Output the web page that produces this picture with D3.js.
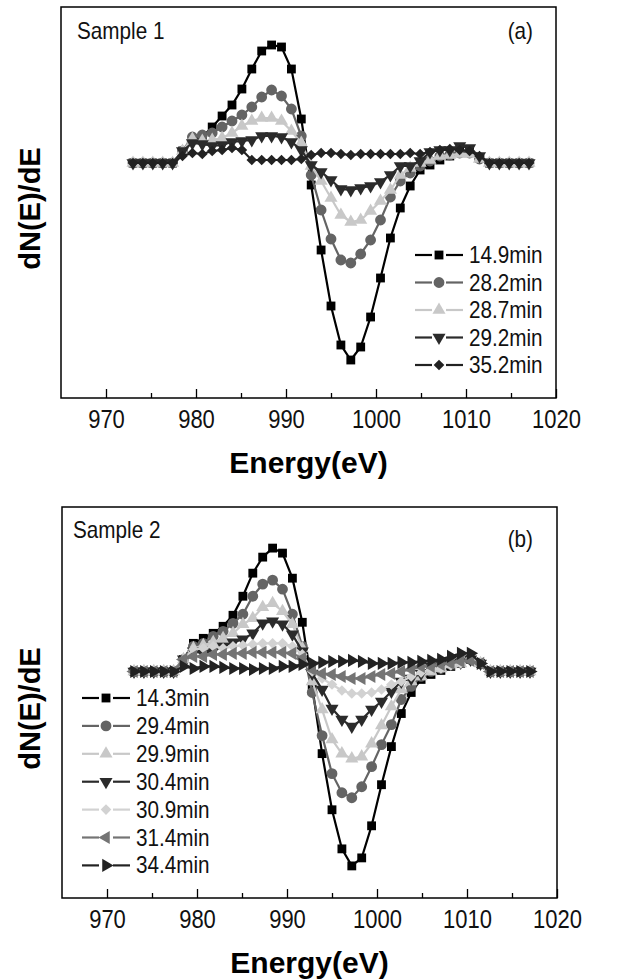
<!DOCTYPE html>
<html>
<head>
<meta charset="utf-8">
<script src="https://cdn.jsdelivr.net/npm/d3@7"></script>
<style>
  body { margin: 0; background: #fff; }
  svg { display: block; font-family: "Liberation Sans", Arial, sans-serif; }
</style>
</head>
<body>
<div id="chart"></div>
<script>
// energy axis (eV)
const energy = [973.0, 974.1, 975.2, 976.3, 977.4, 978.5, 979.6, 980.7, 981.8, 982.9,
  984.0, 985.1, 986.2, 987.3, 988.4, 989.5, 990.6, 991.7, 992.8, 993.9,
  995.0, 996.1, 997.2, 998.3, 999.4, 1000.5, 1001.6, 1002.7, 1003.8, 1004.9,
  1006.0, 1007.1, 1008.2, 1009.3, 1010.4, 1011.5, 1012.6, 1013.7, 1014.8, 1015.9, 1017.0];

const xTicks = [970, 980, 990, 1000, 1010, 1020];
const xMinor = [975, 985, 995, 1005, 1015];

// Sample 1 (a), arbitrary units
const labelsA = ['14.9min', '28.2min', '28.7min', '29.2min', '35.2min'];
const a149 = [0, 0, 0, 0, 0, 12, 24, 26, 36, 47, 58, 74, 94, 112, 118, 116, 94, 44, -22, -87,
  -143, -182, -197, -184, -154, -115, -75, -45, -23, -7, -2, 3, 7, 12, 12, 5, 0, 0, 0, 0, 0];
const a282 = [0, 0, 0, 0, 0, 12, 26, 28, 30, 36, 42, 48, 56, 66, 73, 67, 54, 27, -12, -47,
  -76, -97, -100, -91, -77, -57, -34, -18, -10, -3, 2, 7, 8, 10, 10, 4, 0, 0, 0, 0, 0];
const a287 = [0, 0, 0, 0, 0, 12, 24, 22, 23, 25, 30, 37, 42, 45, 45, 42, 32, 20, -3, -18,
  -35, -52, -59, -57, -48, -38, -27, -12, -5, 0, 3, 7, 8, 9, 9, 4, 0, 0, 0, 0, 0];
const a292 = [0, 0, 0, 0, 0, 12, 20, 19, 17, 18, 21, 22, 23, 27, 27, 26, 21, 13, -2, -9,
  -17, -26, -27, -25, -23, -19, -12, -3, -3, 2, 11, 13, 13, 17, 15, 7, 0, 0, 0, 0, 0];
const a352 = [0, 0, 0, 0, 0, 7, 10, 9, 12, 13, 15, 13, 3, 3, 3, 3, 3, 4, 8, 10,
  10, 9, 8, 9, 9, 9, 9, 9, 10, 9, 11, 13, 14, 13, 12, 7, 0, 0, 0, 0, 0];

// Sample 2 (b), arbitrary units
const labelsB = ['14.3min', '29.4min', '29.9min', '30.4min', '30.9min', '31.4min', '34.4min'];
const b143 = [0, 0, 0, 0, 0, 12, 28, 33, 38, 45, 56, 75, 98, 114, 123, 118, 93, 49, -15, -82,
  -138, -177, -194, -186, -154, -113, -75, -42, -21, -8, -3, 1, 5, 8, 12, 8, 0, 0, 0, 0, 0];
const b294 = [0, 0, 0, 0, 0, 12, 25, 28, 35, 40, 48, 57, 75, 87, 91, 82, 57, 25, -21, -64,
  -102, -121, -126, -115, -95, -73, -53, -28, -15, -5, 0, 3, 7, 10, 12, 8, 0, 0, 0, 0, 0];
const b299 = [0, 0, 0, 0, 0, 12, 23, 26, 29, 33, 38, 47, 53, 64, 68, 60, 47, 23, -10, -38,
  -68, -82, -87, -85, -72, -54, -35, -18, -10, -5, 0, 3, 7, 8, 15, 8, 0, 0, 0, 0, 0];
const b304 = [0, 0, 0, 0, 0, 12, 20, 18, 21, 25, 29, 32, 38, 48, 50, 47, 37, 20, -2, -18,
  -37, -48, -55, -48, -38, -30, -20, -10, -7, -2, 5, 7, 8, 9, 12, 8, 0, 0, 0, 0, 0];
const b309 = [0, 0, 0, 0, 0, 12, 22, 23, 25, 23, 25, 26, 27, 28, 28, 28, 25, 17, 0, -7,
  -13, -19, -22, -22, -21, -18, -13, -10, -5, -1, 2, 3, 6, 8, 13, 9, 0, 0, 0, 0, 0];
const b314 = [0, 0, 0, 0, 0, 12, 15, 15, 17, 17, 18, 18, 19, 19, 19, 19, 18, 13, 2, -2,
  -3, -5, -7, -7, -5, -3, -2, 0, 2, 5, 5, 7, 8, 10, 11, 8, 0, 0, 0, 0, 0];
const b344 = [0, 0, 0, 0, 0, 5, 3, 5, 5, 4, 3, 3, 2, 3, 3, 5, 5, 7, 8, 9,
  10, 10, 11, 10, 8, 8, 8, 9, 9, 10, 11, 12, 15, 18, 18, 8, 0, 0, 0, 0, 0];

const W = 633;
const H = 980;

const svg = d3.select('#chart').append('svg')
  .attr('width', W)
  .attr('height', H);

// marker styles: symbol type, rotation, size
const markers = {
  square: { type: d3.symbolSquare, rot: 0, size: 78 },
  circle: { type: d3.symbolCircle, rot: 0, size: 92 },
  up: { type: d3.symbolTriangle, rot: 0, size: 74 },
  down: { type: d3.symbolTriangle, rot: 180, size: 74 },
  diamond: { type: d3.symbolDiamond2, rot: 0, size: 72 },
  left: { type: d3.symbolTriangle, rot: -90, size: 74 },
  right: { type: d3.symbolTriangle, rot: 90, size: 74 },
};

// text that is a bit narrower than the font, like the original figure
function narrowText(parent, x, y, str, size, anchor) {
  return parent.append('text')
    .attr('transform', `translate(${x},${y}) scale(0.9,1)`)
    .attr('text-anchor', anchor || 'start')
    .attr('font-size', size)
    .attr('fill', '#111')
    .text(str);
}

function drawPanel(cfg) {
  const x = d3.scaleLinear().domain([965, 1020]).range([cfg.left, cfg.right]);
  const y = d3.scaleLinear().domain(cfg.yDomain).range([cfg.bottom, cfg.top]);

  const g = svg.append('g');

  const line = d3.line()
    .x((d) => x(d[0]))
    .y((d) => y(d[1]));

  cfg.series.forEach((s) => {
    const pts = energy.map((e, i) => [e, s.values[i]]);
    const m = markers[s.marker];
    const sg = g.append('g');
    sg.append('path')
      .datum(pts)
      .attr('d', line)
      .attr('fill', 'none')
      .attr('stroke', s.color)
      .attr('stroke-width', 2.2);
    sg.selectAll('path.pt')
      .data(pts)
      .enter()
      .append('path')
      .attr('class', 'pt')
      .attr('d', d3.symbol().type(m.type).size(m.size))
      .attr('transform', (d) => `translate(${x(d[0])},${y(d[1])}) rotate(${m.rot})`)
      .attr('fill', s.color);
  });

  // frame
  g.append('rect')
    .attr('x', cfg.left)
    .attr('y', cfg.top)
    .attr('width', cfg.right - cfg.left)
    .attr('height', cfg.bottom - cfg.top)
    .attr('fill', 'none')
    .attr('stroke', '#000')
    .attr('stroke-width', 1.5);

  // bottom axis, ticks point inward
  const axis = g.append('g')
    .attr('transform', `translate(0,${cfg.bottom})`)
    .call(d3.axisBottom(x).tickValues(xTicks).tickSize(-9).tickPadding(12).tickFormat(d3.format('d')));
  axis.select('.domain').remove();
  axis.selectAll('.tick line').attr('stroke-width', 1.3);
  axis.selectAll('.tick text')
    .attr('font-size', 25)
    .attr('font-family', '"Liberation Sans", Arial, sans-serif')
    .attr('transform', 'scale(0.88,1)')
    .attr('fill', '#111');
  g.append('g')
    .attr('transform', `translate(0,${cfg.bottom})`)
    .call(d3.axisBottom(x).tickValues(xMinor).tickSize(-5).tickFormat(''))
    .call((a) => a.select('.domain').remove())
    .selectAll('.tick line').attr('stroke-width', 1.3);

  g.append('text')
    .attr('x', (cfg.left + cfg.right) / 2)
    .attr('y', cfg.bottom + 75)
    .attr('text-anchor', 'middle')
    .attr('font-size', 30)
    .attr('font-weight', 'bold')
    .text('Energy(eV)');

  g.append('text')
    .attr('transform', `translate(40,${(cfg.top + cfg.bottom) / 2 + 6}) rotate(-90)`)
    .attr('text-anchor', 'middle')
    .attr('font-size', 29)
    .attr('font-weight', 'bold')
    .text('dN(E)/dE');

  narrowText(g, cfg.titleX, cfg.top + cfg.titleDy, cfg.title, 23);
  narrowText(g, cfg.tagX, cfg.top + cfg.tagDy, cfg.tag, 23, 'end');

  // legend
  const leg = g.append('g')
    .attr('transform', `translate(${cfg.legX},${cfg.legY})`);
  cfg.series.forEach((s, i) => {
    const m = markers[s.marker];
    const row = leg.append('g').attr('transform', `translate(0,${i * cfg.legStep})`);
    row.append('line').attr('x1', 0).attr('x2', 17).attr('stroke', s.color).attr('stroke-width', 2.2);
    row.append('line').attr('x1', 31).attr('x2', 48).attr('stroke', s.color).attr('stroke-width', 2.2);
    row.append('path')
      .attr('d', d3.symbol().type(m.type).size(m.size))
      .attr('transform', `translate(24,0) rotate(${m.rot})`)
      .attr('fill', s.color);
    narrowText(row, 54, 8, s.label, 23);
  });
}

drawPanel({
  left: 61, right: 556, top: 7, bottom: 398,
  yDomain: [-235, 156],
  title: 'Sample 1', titleX: 77, titleDy: 32,
  tag: '(a)', tagX: 533, tagDy: 32,
  legX: 415, legY: 255, legStep: 27.5,
  series: [
    { label: labelsA[0], values: a149, color: '#000000', marker: 'square' },
    { label: labelsA[1], values: a282, color: '#646464', marker: 'circle' },
    { label: labelsA[2], values: a287, color: '#c8c8c8', marker: 'up' },
    { label: labelsA[3], values: a292, color: '#2b2b2b', marker: 'down' },
    { label: labelsA[4], values: a352, color: '#222222', marker: 'diamond' },
  ],
});

drawPanel({
  left: 62, right: 557, top: 507, bottom: 898,
  yDomain: [-226, 164],
  title: 'Sample 2', titleX: 73, titleDy: 31,
  tag: '(b)', tagX: 533, tagDy: 40,
  legX: 82, legY: 698, legStep: 27.9,
  series: [
    { label: labelsB[0], values: b143, color: '#000000', marker: 'square' },
    { label: labelsB[1], values: b294, color: '#646464', marker: 'circle' },
    { label: labelsB[2], values: b299, color: '#c8c8c8', marker: 'up' },
    { label: labelsB[3], values: b304, color: '#2b2b2b', marker: 'down' },
    { label: labelsB[4], values: b309, color: '#d2d2d2', marker: 'diamond' },
    { label: labelsB[5], values: b314, color: '#747474', marker: 'left' },
    { label: labelsB[6], values: b344, color: '#222222', marker: 'right' },
  ],
});
</script>
</body>
</html>
